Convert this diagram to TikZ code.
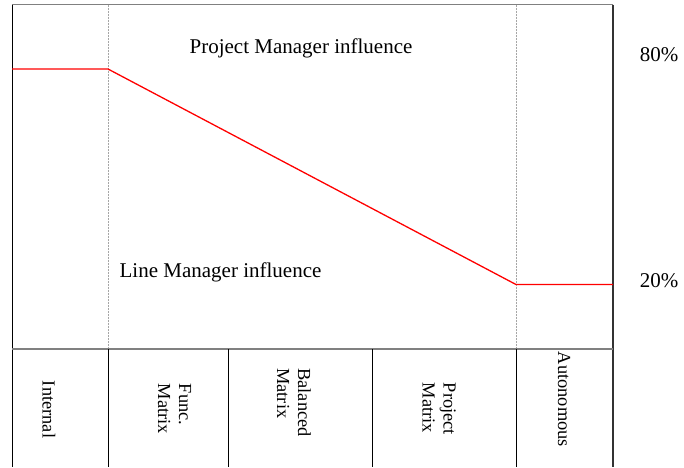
\documentclass[tikz,border=0pt]{standalone}
\usepackage{fontspec}
\setmainfont{Liberation Serif}
\begin{document}
\begin{tikzpicture}[x=1pt,y=-1pt,
  lbl/.style={inner sep=0pt,font=\fontsize{21}{25}\selectfont},
  vlbl/.style={inner sep=0pt,rotate=-90,align=left,font=\fontsize{18.4}{21}\selectfont},
  guide/.style={draw=gray!70,densely dotted,line width=0.5pt},
  cell/.style={draw=black,line width=0.8pt},
  infl/.style={draw=red,line width=1.3pt}]
\useasboundingbox (0,0) rectangle (684,467);
% outer frame
\draw[draw=gray,line width=1.2pt] (12,4.5) -- (613,4.5);
\draw[cell] (12,4.5) -- (12,467);
\draw[draw=black!80,line width=1.6pt] (613,4.5) -- (613,467);
% dotted guides
\draw[guide] (108,4.5) -- (108,349);
\draw[guide] (516,4.5) -- (516,349);
% separator
\draw[draw=gray,line width=1.6pt] (12,349) -- (613,349);
% bottom cells
\foreach \x in {108,228.5,372,516}
  \draw[cell] (\x,349) -- (\x,467);
% influence line
\coordinate (p0) at (12,69);
\coordinate (p1) at (108,69);
\coordinate (p2) at (516,284.5);
\coordinate (p3) at (613,284.5);
\draw[infl] (p0) -- (p1) -- (p2) -- (p3);
% texts
\node[lbl,anchor=base] (pm) at (301,53) {Project Manager influence};
\node[lbl,anchor=base] (lm) at (220.5,277) {Line Manager influence};
\node[lbl,anchor=base] (p80) at (659,61) {80\%};
\node[lbl,anchor=base] (p20) at (659,287) {20\%};
% column labels
\node[vlbl] (int) at (49,409.5) {Internal};
\node[vlbl] (fm) at (174.5,409) {Func.\\Matrix};
\node[vlbl] (bm) at (294,402.5) {Balanced\\Matrix};
\node[vlbl] (pjm) at (439,409) {Project\\Matrix};
\node[vlbl] (aut) at (564,399.5) {Autonomous};
\end{tikzpicture}
\end{document}
